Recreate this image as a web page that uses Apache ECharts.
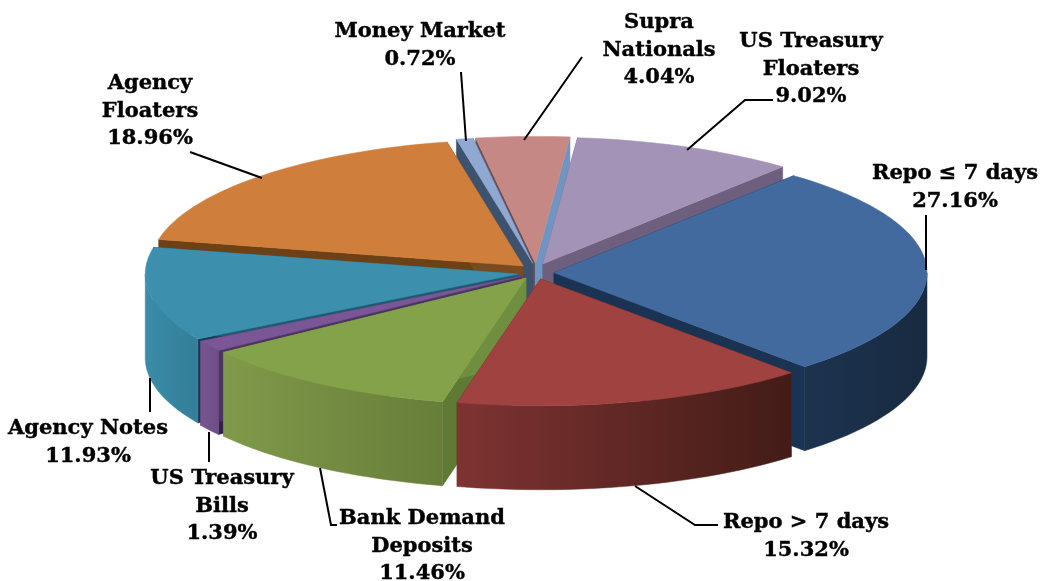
<!DOCTYPE html>
<html lang="en">
<head>
    <meta charset="UTF-8">
    <title>Portfolio composition</title>
    <style>
        html,body { height: 100%; width: 100%; margin: 0; padding: 0; overflow: hidden; background: #fff; }
        #main { width: 1040px; height: 581px; }
    </style>
</head>
<body>
    <div id="main"></div>
    <script src="https://cdn.jsdelivr.net/npm/echarts@6/dist/echarts.min.js"></script>
    <script>
        // chart values
        var categories = ['Repo ≤ 7 days', 'Repo > 7 days', 'Bank Demand Deposits', 'US Treasury Bills', 'Agency Notes', 'Agency Floaters', 'Money Market', 'Supra Nationals', 'US Treasury Floaters'];
        var shares = [27.16, 15.32, 11.46, 1.39, 11.93, 18.96, 0.72, 4.04, 9.02];
        var labelLines = [
            ['Repo ≤ 7 days'], ['Repo > 7 days'], ['Bank Demand', 'Deposits'], ['US Treasury', 'Bills'],
            ['Agency Notes'], ['Agency', 'Floaters'], ['Money Market'], ['Supra', 'Nationals'], ['US Treasury', 'Floaters']
        ];

        // pie geometry
        var cx = 536, cy = 273, rx = 373, k = 0.34, depth = 84, explode = 18, firstAngle = 40;
        // back slices first, front slices last
        var paintOrder = [7, 8, 6, 5, 0, 4, 3, 2, 1];

        // [top, start wall, end wall, outer wall left, outer wall right]
        var colors = [
            ['#426A9F', '#1C3350', '#1A3352', '#1C3350', '#182A40'],
            ['#A04340', '#5E2523', '#5E2523', '#7E3332', '#431C17'],
            ['#84A24A', '#5F7A35', '#6F8E3F', '#80994A', '#667E39'],
            ['#7A5697', '#2F2245', '#4A3560', '#78558F', '#6E4E88'],
            ['#3C90AD', '#143C58', '#1F5A70', '#3A8CA8', '#347E98'],
            ['#CF7F3B', '#6E4016', '#7A4A20', '#B06A30', '#A05F2A'],
            ['#8FA9D3', '#3D526F', '#3D526F', '#6F86A8', '#6F86A8'],
            ['#C68885', '#6E4F52', '#6F96C2', '#9A6A68', '#9A6A68'],
            ['#A393B7', '#6E5F7E', '#6E5F7E', '#7F7090', '#7F7090']
        ];

        var labelPos = [
            [955, 174], [806, 523], [422, 519], [222, 479], [88, 429], [150, 84], [420, 32], [659, 23], [811, 42]
        ];
        var leaders = [
            [[926, 215], [926, 270]],
            [[635, 486], [695, 525], [718, 525]],
            [[320, 468], [331, 525], [337, 525]],
            [[209, 432], [209, 462]],
            [[150, 378], [150, 412]],
            [[190, 152], [262, 178]],
            [[461, 72], [466, 141]],
            [[582, 57], [524, 140]],
            [[773, 100], [745, 100], [687, 150]]
        ];

        // the back of the pie sits a little to the left in the picture
        function warp(a) {
            if (a < 282) return a;
            if (a < 350) return a - 2.2 * (a - 282) / 68;
            if (a < 368) return a - 2.2;
            return a - 2.2 * (400 - a) / 32;
        }

        function rad(a) {
            return a * Math.PI / 180;
        }

        function apexOf(mid) {
            var c = Math.cos(rad(mid));
            var ky = c > 0 ? k * 1.6 : k;
            return [cx + explode * Math.sin(rad(mid)), cy - explode * c * ky];
        }

        function rim(apex, a) {
            return [apex[0] + rx * Math.sin(rad(a)), apex[1] - rx * k * Math.cos(rad(a))];
        }

        function down(p) {
            return [p[0], p[1] + depth];
        }

        function arc(apex, from, to) {
            var pts = [];
            for (var a = from; a < to; a += 2) {
                pts.push(rim(apex, a));
            }
            pts.push(rim(apex, to));
            return pts;
        }

        function poly(points, fill) {
            return { type: 'polygon', shape: { points: points }, style: { fill: fill, stroke: fill, lineWidth: 0.5 } };
        }

        function renderSlice(params, api) {
            var i = api.value(0);
            var start = firstAngle;
            for (var n = 0; n < i; n++) start += shares[n] * 3.6;
            var end = start + shares[i] * 3.6;
            var a0 = warp(start), a1 = warp(end);
            var apex = apexOf((a0 + a1) / 2);
            var col = colors[i];
            var kids = [];

            var p0 = rim(apex, a0), p1 = rim(apex, a1);
            kids.push(poly([apex, p0, down(p0), down(apex)], col[1]));
            kids.push(poly([apex, p1, down(p1), down(apex)], col[2]));

            // outer wall, only the part that faces the viewer
            var w0 = Math.max(a0, 90), w1 = Math.min(a1, 270);
            if (w1 > w0) {
                var edge = arc(apex, w0, w1);
                var low = edge.map(down).reverse();
                kids.push(poly(edge.concat(low), new echarts.graphic.LinearGradient(0, 0, 1, 0, [
                    { offset: 0, color: col[3] },
                    { offset: 1, color: col[4] }
                ])));
            }

            kids.push(poly([apex].concat(arc(apex, a0, a1)), col[0]));
            return { type: 'group', children: kids };
        }

        var graphics = [];
        leaders.forEach(function (pts) {
            graphics.push({
                type: 'polyline',
                shape: { points: pts },
                style: { stroke: '#000', lineWidth: 2, fill: null },
                z: 10
            });
        });
        categories.forEach(function (name, i) {
            var lines = labelLines[i].concat([shares[i].toFixed(2) + '%']);
            lines.forEach(function (txt, j) {
                graphics.push({
                    type: 'text',
                    x: labelPos[i][0],
                    y: labelPos[i][1] + j * 27.5,
                    z: 11,
                    style: {
                        text: txt,
                        fill: '#000',
                        stroke: '#000',
                        lineWidth: 0.4,
                        font: 'bold 21px "DejaVu Serif"',
                        align: 'center',
                        verticalAlign: 'middle'
                    }
                });
            });
        });

        var chart = echarts.init(document.getElementById('main'));
        chart.setOption({
            animation: false,
            backgroundColor: '#fff',
            graphic: { elements: graphics },
            series: [{
                type: 'custom',
                coordinateSystem: 'none',
                renderItem: renderSlice,
                data: paintOrder.map(function (i) {
                    return { name: categories[i], value: [i, shares[i]] };
                })
            }]
        });
    </script>
</body>
</html>
